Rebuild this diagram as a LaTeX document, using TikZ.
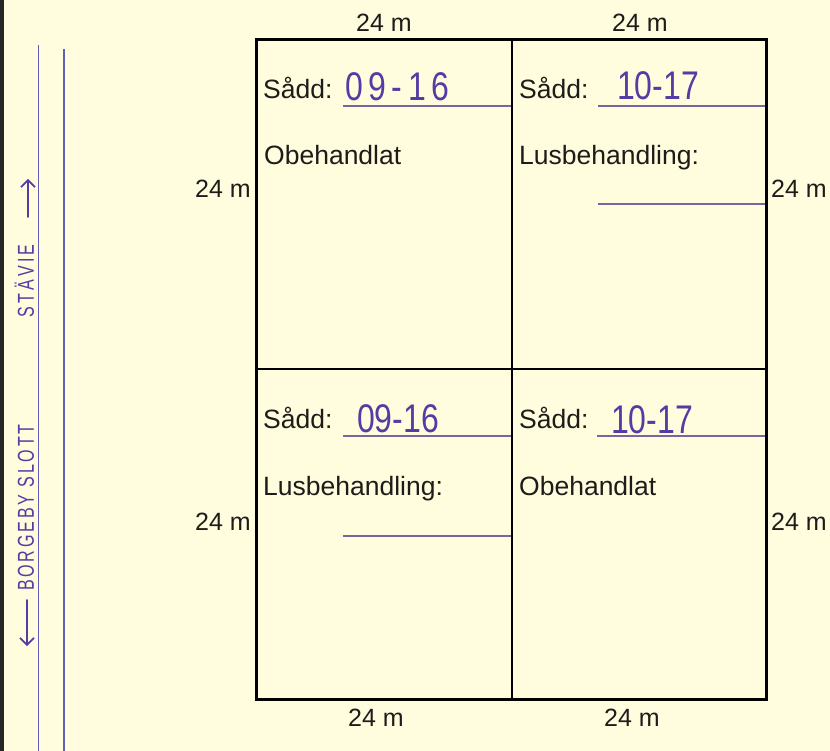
\documentclass[tikz,border=0pt]{standalone}
\usepackage{fontspec}
\usetikzlibrary{arrows.meta}
\setmainfont{Liberation Sans}
\newfontfamily\handA[FakeStretch=0.8,LetterSpace=14]{Liberation Sans}
\newfontfamily\handB[FakeStretch=0.8]{Liberation Sans}
\newfontfamily\sideA[FakeStretch=0.7,LetterSpace=14]{Liberation Sans}
\newfontfamily\sideB[FakeStretch=0.7,LetterSpace=12]{Liberation Sans}
\definecolor{paper}{RGB}{255,253,222}
\definecolor{ink}{RGB}{85,60,165}
\definecolor{rule}{RGB}{120,100,160}
\definecolor{penline}{RGB}{95,95,185}
\definecolor{txt}{RGB}{30,28,25}
\tikzset{
  field/.style={draw=black, line width=3pt},
  divider/.style={draw=black, line width=2.4pt},
  fillline/.style={draw=rule, line width=1.1pt},
  label/.style={anchor=base west, inner sep=0pt, text=txt, font=\fontsize{26.5}{27}\selectfont},
  dim/.style={anchor=base, inner sep=0pt, text=txt, font=\fontsize{25}{25}\selectfont},
  handw/.style={anchor=base west, inner sep=0pt, text=ink},
  road/.style={draw=penline, line width=1.2pt},
  sidetxt/.style={inner sep=0pt, text=ink, rotate=90, anchor=base west},
  pointer/.style={draw=ink, line width=1.6pt, line cap=round, -{Straight Barb[length=7pt,width=14pt,line width=1.6pt]}}
}
\begin{document}
\begin{tikzpicture}[x=1pt,y=-1pt]
\fill[paper] (0,0) rectangle (830,751);
\useasboundingbox (0,0) rectangle (830,751);
\fill[black!85] (0,0) rectangle (4,751);
% roads
\coordinate (r1a) at (38.5,45);
\coordinate (r1b) at (38.5,751);
\coordinate (r2a) at (64,49);
\coordinate (r2b) at (64,751);
\draw[road] (r1a) -- (r1b);
\draw[road] (r2a) -- (r2b);
\node[sidetxt, font=\sideA\fontsize{23}{23}\selectfont] (stavie) at (34,318) {STÄVIE};
\coordinate (sa0) at (28,217); \coordinate (sa1) at (28,179);
\draw[pointer] (sa0) -- (sa1);
\node[sidetxt, font=\sideB\fontsize{23}{23}\selectfont] (borgeby) at (34,591) {BORGEBY SLOTT};
\coordinate (ba0) at (27,600); \coordinate (ba1) at (27,646);
\draw[pointer] (ba0) -- (ba1);
% field grid
\coordinate (tl) at (256,40);
\coordinate (br) at (766,699);
\coordinate (mt) at (512,40);
\coordinate (mb) at (512,699);
\coordinate (ml) at (256,369);
\coordinate (mr) at (766,369);
\draw[divider] (mt) -- (mb);
\draw[divider] (ml) -- (mr);
\draw[field] (tl) rectangle (br);
% dimensions
\node[dim] (dt1) at (384,32) {24 m};
\node[dim] (dt2) at (640,32) {24 m};
\node[dim] (db1) at (376,726) {24 m};
\node[dim] (db2) at (632,726) {24 m};
\node[dim] (dl1) at (223,198) {24 m};
\node[dim] (dl2) at (223,530) {24 m};
\node[dim] (dr1) at (799,198) {24 m};
\node[dim] (dr2) at (799,530) {24 m};
% cell A (top left)
\node[label] (sa) at (263,99) {Sådd:};
\coordinate (ua1) at (343,106); \coordinate (ua2) at (511,106);
\draw[fillline] (ua1) -- (ua2);
\node[handw, font=\handA\fontsize{40}{40}\selectfont] (ha) at (345,101) {09-16};
\node[label] (ta) at (264,165) {Obehandlat};
% cell B (top right)
\node[label] (sb) at (519,99) {Sådd:};
\coordinate (ub1) at (598,106); \coordinate (ub2) at (765,106);
\draw[fillline] (ub1) -- (ub2);
\node[handw, font=\handB\fontsize{40}{40}\selectfont] (hb) at (617,100) {10-17};
\node[label] (tb) at (519,165) {Lusbehandling:};
\coordinate (vb1) at (598,204); \coordinate (vb2) at (765,204);
\draw[fillline] (vb1) -- (vb2);
% cell C (bottom left)
\node[label] (sc) at (263,428) {Sådd:};
\coordinate (uc1) at (343,436); \coordinate (uc2) at (511,436);
\draw[fillline] (uc1) -- (uc2);
\node[handw, font=\handB\fontsize{40}{40}\selectfont] (hc) at (357,432) {09-16};
\node[label] (tc) at (263,495) {Lusbehandling:};
\coordinate (vc1) at (343,536); \coordinate (vc2) at (511,536);
\draw[fillline] (vc1) -- (vc2);
% cell D (bottom right)
\node[label] (sd) at (519,428) {Sådd:};
\coordinate (ud1) at (597,436); \coordinate (ud2) at (765,436);
\draw[fillline] (ud1) -- (ud2);
\node[handw, font=\handB\fontsize{40}{40}\selectfont] (hd) at (611,433) {10-17};
\node[label] (td) at (519,495) {Obehandlat};
\end{tikzpicture}
\end{document}
